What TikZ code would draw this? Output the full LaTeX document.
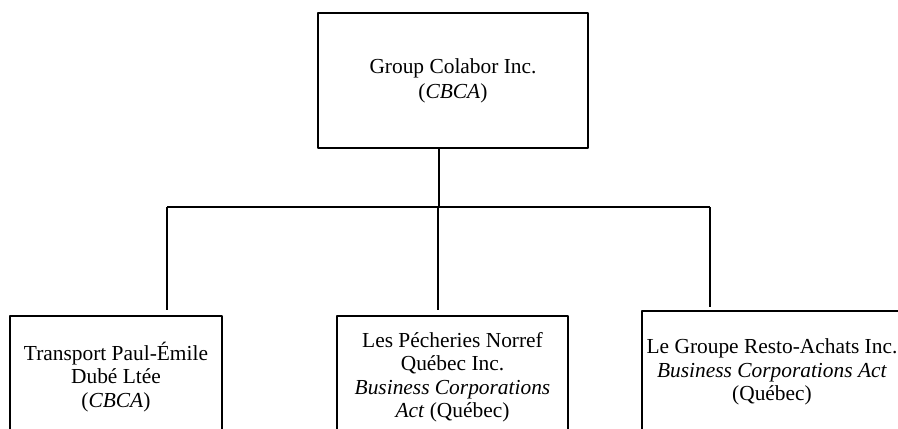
\documentclass[tikz,border=0pt]{standalone}
\usepackage{fontspec}
\setmainfont{Liberation Serif}
\usetikzlibrary{positioning}

\begin{document}
\begin{tikzpicture}[x=0.5pt,y=-0.5pt,line join=bevel,
  entity/.style={draw,line width=0.6pt,align=center,inner sep=0pt,
    font=\fontsize{10.7}{11.75}\selectfont,minimum height=61pt},
  link/.style={black,line width=0.55pt}]

  \useasboundingbox (0,0) rectangle (898,428);
  \clip (0,0) rectangle (898,428);

  \node (node_0) at (453,80.5) [entity,minimum width=135pt,minimum height=67.5pt,
    font=\fontsize{10.7}{12.5}\selectfont] {Group Colabor Inc.\\(\textit{CBCA})};
  \node (node_1) at (116,377) [entity,minimum width=106pt] {Transport Paul-Émile\\Dubé Ltée\\(\textit{CBCA})};
  \node (node_2) at (452.5,377) [entity,minimum width=115.5pt] {Les Pécheries Norref\\Québec Inc.\\\textit{Business Corporations}\\\textit{Act} (Québec)};
  \node (node_3) at (772,372) [entity,minimum width=130pt] {Le Groupe Resto-Achats Inc.\\\textit{Business Corporations Act}\\(Québec)};

  \coordinate (bus) at (439,207);
  \coordinate (tip_1) at (167,310);
  \coordinate (tip_2) at (438,310);
  \coordinate (tip_3) at (710,307);

  \draw [link] (node_0.south -| bus) -- (bus);
  \draw [link] (tip_1 |- bus) -- (tip_3 |- bus);
  \draw [link] (tip_1 |- bus) -- (tip_1);
  \draw [link] (tip_2 |- bus) -- (tip_2);
  \draw [link] (tip_3 |- bus) -- (tip_3);
%
\end{tikzpicture}
\end{document}
